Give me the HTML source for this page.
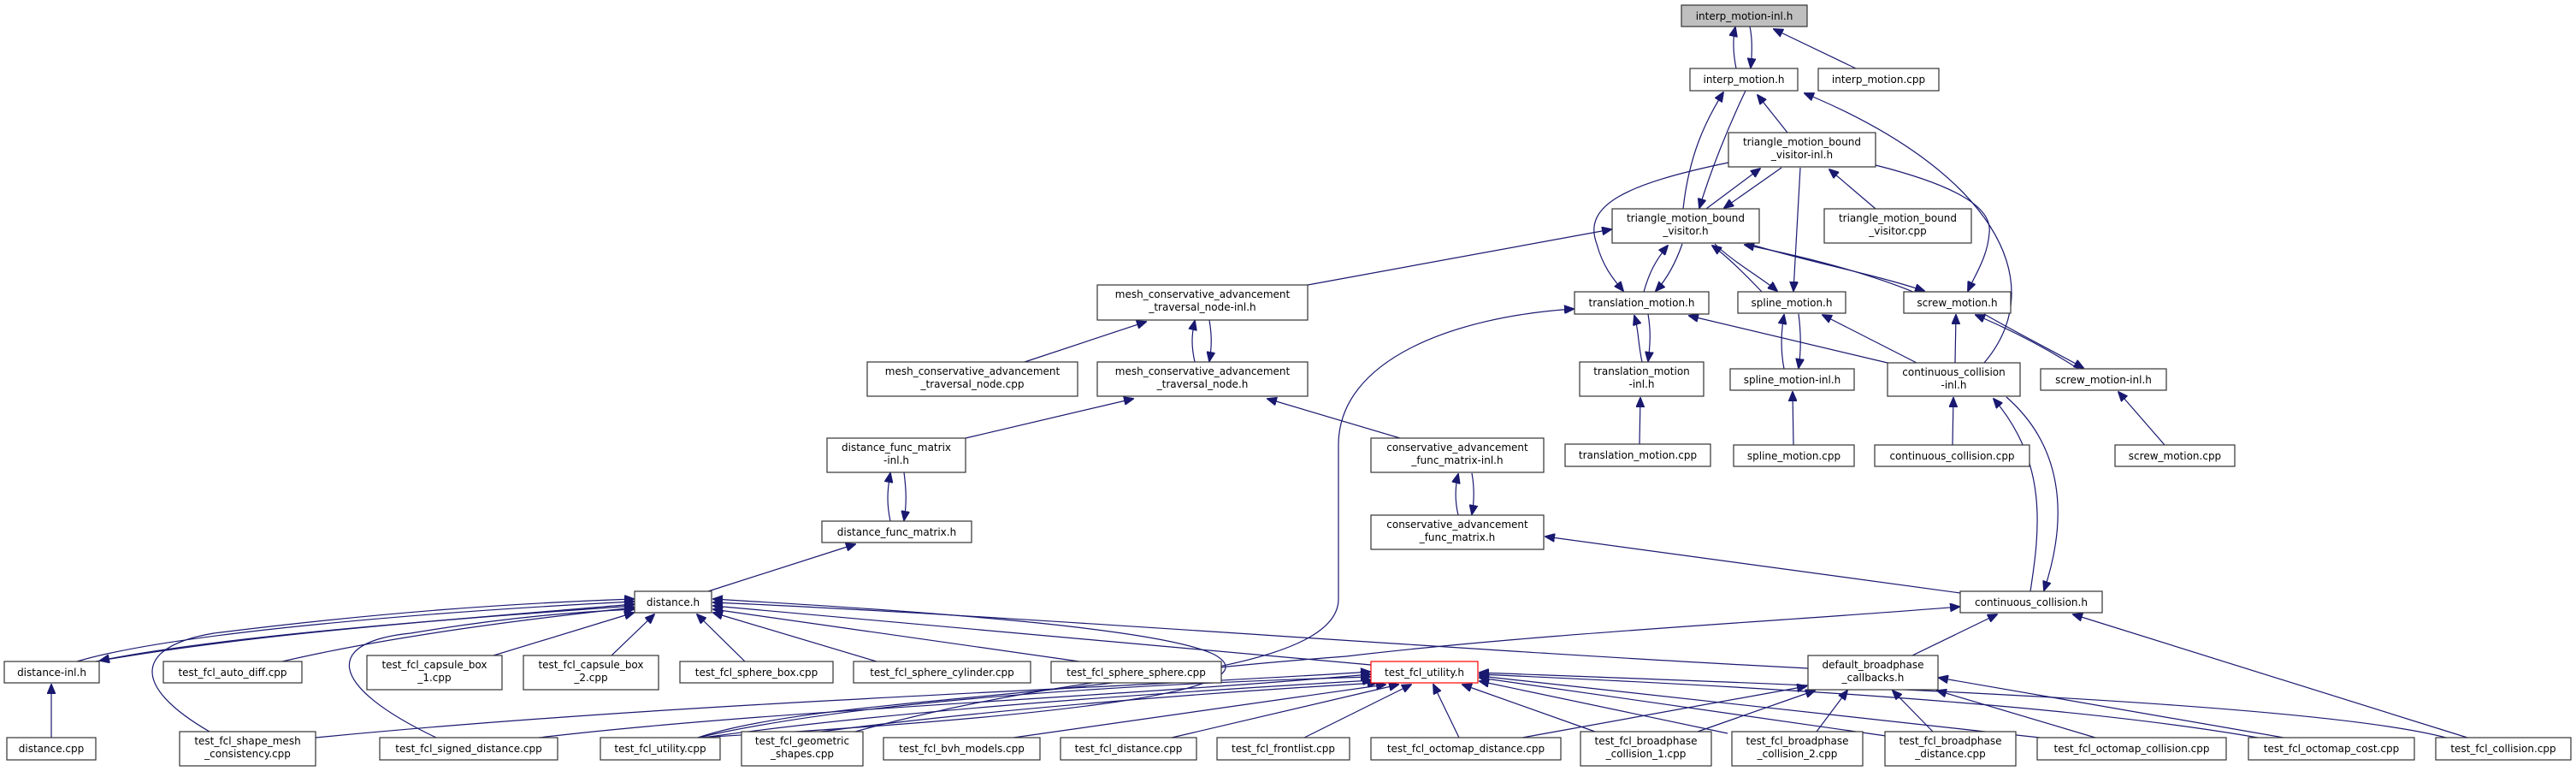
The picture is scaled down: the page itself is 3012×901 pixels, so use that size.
<!DOCTYPE html>
<html><head><meta charset="utf-8"><style>
html,body{margin:0;padding:0;background:#fff}
svg{display:block}
text{font-family:"DejaVu Sans","Liberation Sans",sans-serif;font-size:12px;fill:#000;text-anchor:middle}
.n{fill:#fff;stroke:#333;stroke-width:1.2}
.e{fill:none;stroke:#191970;stroke-width:1.2}
</style></head><body>
<svg width="3012" height="901" viewBox="0 0 3012 901" xmlns="http://www.w3.org/2000/svg">
<defs><marker id="a" markerWidth="12" markerHeight="10" refX="11" refY="5" orient="auto" markerUnits="userSpaceOnUse"><path d="M0,0 L12,5 L0,10 z" fill="#191970" stroke="#191970"/></marker></defs>
<g class="e" marker-end="url(#a)">
<!-- top -->
<path d="M2030,80 C2026,60 2026,45 2029,32"/>
<path d="M2046,31 C2049,45 2049,60 2047,79"/>
<path d="M2170,80 L2074,34"/>
<path d="M1968,244 C1975,180 1995,140 2015,108"/>
<path d="M2041,106 C2020,150 2000,200 1987,243"/>
<path d="M2090,155 L2055,111"/>
<path d="M2320,424 C2400,330 2330,200 2110,109"/>
<path d="M1995,244 L2058,197"/>
<path d="M2083,196 L2016,243"/>
<path d="M2193,244 L2139,198"/>
<path d="M2021,190 C1900,215 1850,240 1867,285 C1875,315 1890,330 1898,340"/>
<path d="M2105,196 L2097,340"/>
<path d="M2193,193 C2280,215 2330,240 2326,272 C2324,300 2310,320 2301,340"/>
<path d="M1529,333 L1884,268"/>
<path d="M1922,341 C1928,320 1935,305 1950,287"/>
<path d="M1967,285 C1960,305 1950,325 1936,340"/>
<path d="M2060,341 C2040,320 2020,300 2002,287"/>
<path d="M2005,285 C2025,305 2060,325 2078,340"/>
<path d="M2237,341 C2180,318 2110,300 2040,286"/>
<path d="M2045,285 C2110,305 2190,320 2250,340"/>
<!-- translation -->
<path d="M1920,423 C1915,400 1916,385 1911,369"/>
<path d="M1927,367 C1930,385 1930,400 1927,422"/>
<path d="M1917,519 L1918,465"/>
<path d="M2207,424 L1975,369"/>
<path d="M816,862 C1000,800 1565,820 1565,700 L1565,520 C1565,420 1700,370 1840,361"/>
<!-- spline -->
<path d="M2086,431 C2082,410 2082,390 2086,368"/>
<path d="M2103,367 C2106,390 2106,410 2103,430"/>
<path d="M2097,520 L2096,458"/>
<path d="M2241,424 L2131,368"/>
<path d="M2286,424 L2287,368"/>
<!-- screw -->
<path d="M2430,431 C2390,405 2350,385 2310,368"/>
<path d="M2320,367 C2360,390 2400,410 2436,430"/>
<path d="M2531,520 L2477,458"/>
<path d="M2283,520 L2284,465"/>
<!-- cc -->
<path d="M2374,691 C2385,620 2395,540 2331,466"/>
<path d="M2346,464 C2410,520 2420,600 2390,690"/>
<path d="M2292,693 L1807,627"/>
<path d="M1705,602 C1701,585 1701,570 1705,554"/>
<path d="M1721,553 C1724,570 1724,585 1721,601"/>
<path d="M1637,512 L1482,466"/>
<path d="M1129,512 L1325,466"/>
<path d="M1041,609 C1037,590 1037,575 1041,553"/>
<path d="M1057,552 C1060,575 1060,590 1057,608"/>
<path d="M828,691 L1000,636"/>
<path d="M1198,423 L1340,376"/>
<path d="M1397,423 C1393,405 1393,392 1397,375"/>
<path d="M1414,374 C1417,392 1417,405 1414,422"/>
<path d="M2236,766 L2335,718"/>
<path d="M2885,862 L2424,718"/>
<path d="M1000,855 C1200,800 1400,780 1574,767 C1800,740 2100,725 2291,709"/>
<!-- distance.h incoming -->
<path d="M90,773 C200,740 500,715 741,703"/>
<path d="M741,708 C500,725 250,745 117,772"/>
<path d="M60,862 L60,800"/>
<path d="M112,773 C300,740 520,725 741,706"/>
<path d="M330,773 C450,745 600,725 741,710"/>
<path d="M245,855 C150,800 160,755 250,740 C450,715 600,705 741,700"/>
<path d="M510,862 C380,800 380,750 480,740 C600,720 680,715 741,712"/>
<path d="M577,766 L741,716"/>
<path d="M715,766 L765,718"/>
<path d="M871,773 L815,718"/>
<path d="M1025,773 L834,716"/>
<path d="M1262,773 L834,712"/>
<path d="M1603,777 L834,708"/>
<path d="M2114,781 C1700,760 1200,720 834,704"/>
<path d="M816,862 C1200,840 1500,810 1420,765 C1350,730 1000,710 834,700"/>
<!-- test_fcl_utility.h incoming -->
<path d="M369,862 C800,820 1300,805 1602,785"/>
<path d="M630,862 C900,830 1300,815 1602,788"/>
<path d="M816,862 C1000,820 1300,800 1602,791"/>
<path d="M822,862 C1050,830 1350,810 1604,795"/>
<path d="M960,855 C1150,830 1400,810 1610,798"/>
<path d="M1185,862 L1620,800"/>
<path d="M1370,862 L1635,800"/>
<path d="M1525,862 L1650,800"/>
<path d="M1706,862 L1676,800"/>
<path d="M1865,855 L1710,800"/>
<path d="M2020,857 L1730,796"/>
<path d="M2205,860 L1730,792"/>
<path d="M2385,862 L1730,790"/>
<path d="M2640,862 C2400,820 2000,800 1730,788"/>
<path d="M2860,862 C2700,820 2100,800 1730,786"/>
<!-- default_broadphase incoming -->
<path d="M1780,862 L2112,802"/>
<path d="M1985,855 L2122,807"/>
<path d="M2124,855 L2160,807"/>
<path d="M2260,855 L2213,807"/>
<path d="M2450,862 L2265,807"/>
<path d="M2670,862 L2267,792"/>
</g>
<g>
<rect class="n" x="1966" y="6" width="147" height="25" style="fill:#bfbfbf"/><text x="2039.5" y="23">interp_motion-inl.h</text>
<rect class="n" x="1976" y="80" width="126" height="26"/><text x="2039" y="97">interp_motion.h</text>
<rect class="n" x="2126" y="80" width="141" height="26"/><text x="2196.5" y="97">interp_motion.cpp</text>
<rect class="n" x="2021" y="155" width="172" height="40"/><text x="2107" y="170">triangle_motion_bound</text><text x="2107" y="185">_visitor-inl.h</text>
<rect class="n" x="1885" y="244" width="172" height="40"/><text x="1971" y="259">triangle_motion_bound</text><text x="1971" y="274">_visitor.h</text>
<rect class="n" x="2133" y="244" width="172" height="40"/><text x="2219" y="259">triangle_motion_bound</text><text x="2219" y="274">_visitor.cpp</text>
<rect class="n" x="1283" y="333" width="246" height="41"/><text x="1406" y="348">mesh_conservative_advancement</text><text x="1406" y="363">_traversal_node-inl.h</text>
<rect class="n" x="1841" y="341" width="157" height="26"/><text x="1919.5" y="358">translation_motion.h</text>
<rect class="n" x="2032" y="341" width="126" height="25"/><text x="2095" y="358">spline_motion.h</text>
<rect class="n" x="2226" y="341" width="125" height="25"/><text x="2288.5" y="358">screw_motion.h</text>
<rect class="n" x="1014" y="423" width="246" height="40"/><text x="1137" y="438">mesh_conservative_advancement</text><text x="1137" y="453">_traversal_node.cpp</text>
<rect class="n" x="1283" y="423" width="246" height="40"/><text x="1406" y="438">mesh_conservative_advancement</text><text x="1406" y="453">_traversal_node.h</text>
<rect class="n" x="1847" y="423" width="145" height="40"/><text x="1919.5" y="438">translation_motion</text><text x="1919.5" y="453">-inl.h</text>
<rect class="n" x="2023" y="431" width="145" height="25"/><text x="2095.5" y="448">spline_motion-inl.h</text>
<rect class="n" x="2207" y="424" width="155" height="39"/><text x="2284.5" y="439">continuous_collision</text><text x="2284.5" y="454">-inl.h</text>
<rect class="n" x="2386" y="431" width="147" height="25"/><text x="2459.5" y="448">screw_motion-inl.h</text>
<rect class="n" x="1830" y="519" width="170" height="26"/><text x="1915" y="536">translation_motion.cpp</text>
<rect class="n" x="2027" y="520" width="141" height="25"/><text x="2097.5" y="537">spline_motion.cpp</text>
<rect class="n" x="2192" y="520" width="181" height="25"/><text x="2282.5" y="537">continuous_collision.cpp</text>
<rect class="n" x="2473" y="520" width="140" height="25"/><text x="2543" y="537">screw_motion.cpp</text>
<rect class="n" x="967" y="512" width="162" height="40"/><text x="1048" y="527">distance_func_matrix</text><text x="1048" y="542">-inl.h</text>
<rect class="n" x="961" y="609" width="175" height="25"/><text x="1048.5" y="626">distance_func_matrix.h</text>
<rect class="n" x="1603" y="512" width="202" height="40"/><text x="1704" y="527">conservative_advancement</text><text x="1704" y="542">_func_matrix-inl.h</text>
<rect class="n" x="1603" y="602" width="202" height="40"/><text x="1704" y="617">conservative_advancement</text><text x="1704" y="632">_func_matrix.h</text>
<rect class="n" x="742" y="691" width="90" height="25"/><text x="787" y="708">distance.h</text>
<rect class="n" x="2292" y="691" width="166" height="25"/><text x="2375" y="708">continuous_collision.h</text>
<rect class="n" x="5" y="773" width="111" height="25"/><text x="60.5" y="790">distance-inl.h</text>
<rect class="n" x="191" y="773" width="162" height="25"/><text x="272" y="790">test_fcl_auto_diff.cpp</text>
<rect class="n" x="429" y="766" width="158" height="40"/><text x="508" y="781">test_fcl_capsule_box</text><text x="508" y="796">_1.cpp</text>
<rect class="n" x="612" y="766" width="158" height="40"/><text x="691" y="781">test_fcl_capsule_box</text><text x="691" y="796">_2.cpp</text>
<rect class="n" x="795" y="773" width="179" height="25"/><text x="884.5" y="790">test_fcl_sphere_box.cpp</text>
<rect class="n" x="998" y="773" width="207" height="25"/><text x="1101.5" y="790">test_fcl_sphere_cylinder.cpp</text>
<rect class="n" x="1229" y="773" width="199" height="25"/><text x="1328.5" y="790">test_fcl_sphere_sphere.cpp</text>
<rect class="n" x="1603" y="773" width="125" height="25" style="stroke:#ff0000"/><text x="1665.5" y="790">test_fcl_utility.h</text>
<rect class="n" x="2114" y="766" width="152" height="40"/><text x="2190" y="781">default_broadphase</text><text x="2190" y="796">_callbacks.h</text>
<rect class="n" x="8" y="862" width="104" height="26"/><text x="60" y="879">distance.cpp</text>
<rect class="n" x="210" y="855" width="159" height="40"/><text x="289.5" y="870">test_fcl_shape_mesh</text><text x="289.5" y="885">_consistency.cpp</text>
<rect class="n" x="444" y="862" width="208" height="26"/><text x="548" y="879">test_fcl_signed_distance.cpp</text>
<rect class="n" x="702" y="862" width="140" height="26"/><text x="772" y="879">test_fcl_utility.cpp</text>
<rect class="n" x="867" y="855" width="142" height="40"/><text x="938" y="870">test_fcl_geometric</text><text x="938" y="885">_shapes.cpp</text>
<rect class="n" x="1033" y="862" width="183" height="26"/><text x="1124.5" y="879">test_fcl_bvh_models.cpp</text>
<rect class="n" x="1240" y="862" width="159" height="26"/><text x="1319.5" y="879">test_fcl_distance.cpp</text>
<rect class="n" x="1423" y="862" width="155" height="26"/><text x="1500.5" y="879">test_fcl_frontlist.cpp</text>
<rect class="n" x="1603" y="862" width="222" height="26"/><text x="1714" y="879">test_fcl_octomap_distance.cpp</text>
<rect class="n" x="1848" y="855" width="153" height="40"/><text x="1924.5" y="870">test_fcl_broadphase</text><text x="1924.5" y="885">_collision_1.cpp</text>
<rect class="n" x="2025" y="855" width="153" height="40"/><text x="2101.5" y="870">test_fcl_broadphase</text><text x="2101.5" y="885">_collision_2.cpp</text>
<rect class="n" x="2204" y="855" width="153" height="40"/><text x="2280.5" y="870">test_fcl_broadphase</text><text x="2280.5" y="885">_distance.cpp</text>
<rect class="n" x="2382" y="862" width="221" height="26"/><text x="2492.5" y="879">test_fcl_octomap_collision.cpp</text>
<rect class="n" x="2629" y="862" width="194" height="26"/><text x="2726" y="879">test_fcl_octomap_cost.cpp</text>
<rect class="n" x="2848" y="862" width="158" height="26"/><text x="2927" y="879">test_fcl_collision.cpp</text>
</g>
</svg>
</body></html>
